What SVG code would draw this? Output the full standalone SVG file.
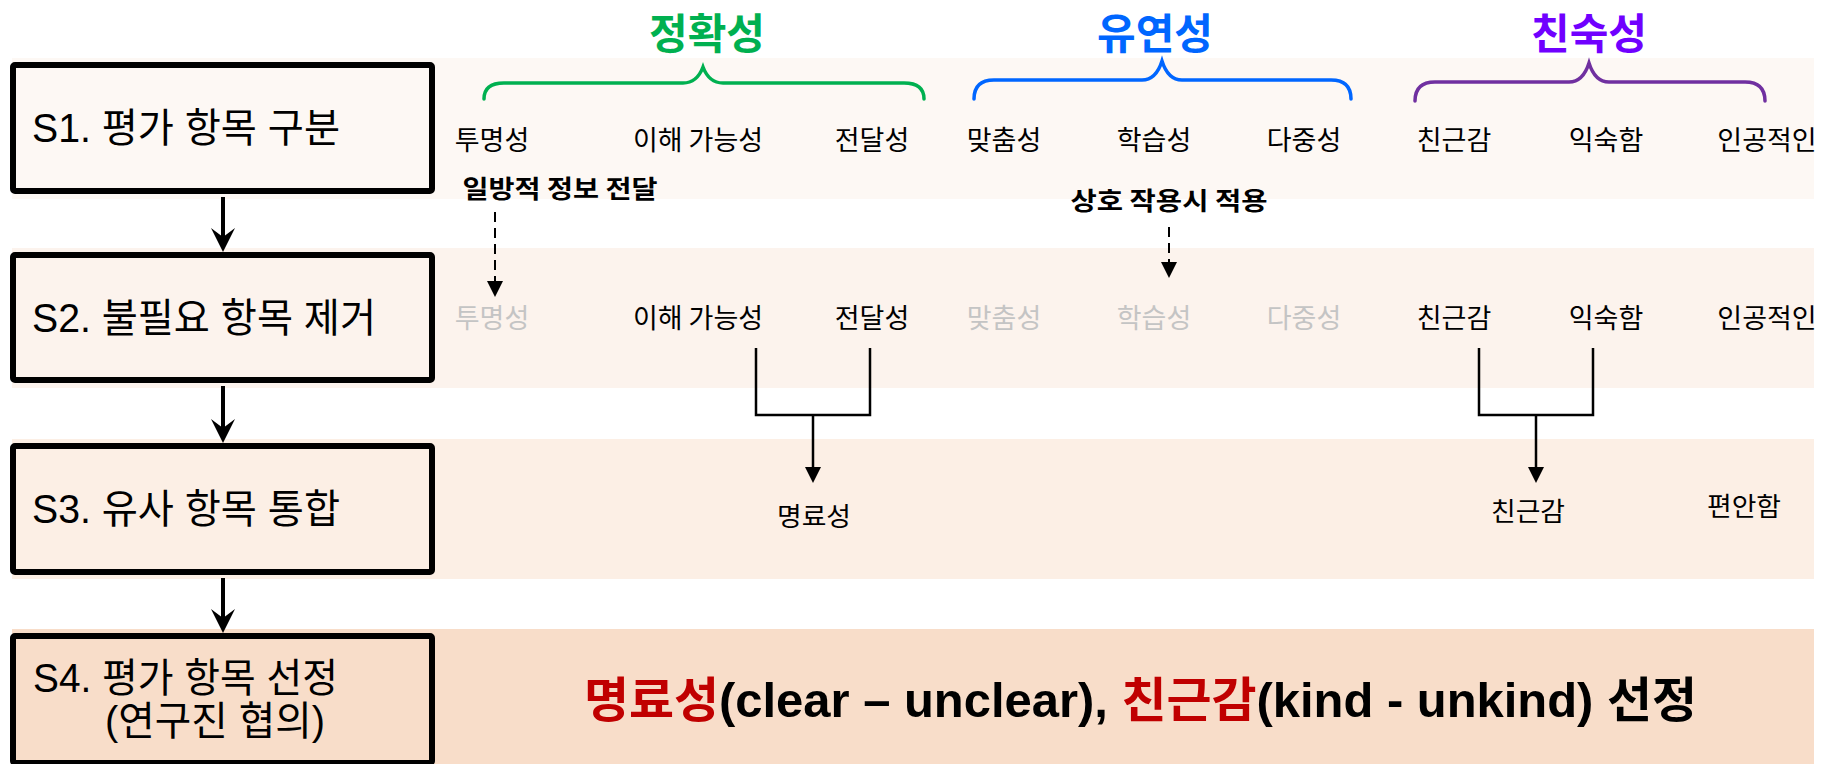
<svg xmlns="http://www.w3.org/2000/svg" width="1833" height="764" viewBox="0 0 1833 764">
<style>
.box{stroke:#000;stroke-width:6}
.step{font-family:"Liberation Sans","Noto Sans CJK KR",sans-serif;font-size:40px;fill:#000}
.lbl{font-family:"Noto Sans CJK KR",sans-serif;font-size:27px;fill:#000;text-anchor:middle}
.off{fill:#c4c4c4}
.note{font-family:"Noto Sans CJK KR",sans-serif;font-size:25px;font-weight:700;fill:#000;text-anchor:middle}
.hdr{font-family:"Noto Sans CJK KR",sans-serif;font-size:42px;font-weight:700;text-anchor:middle}
.brace{fill:none;stroke-width:3.5;stroke-linecap:round}
.res{font-family:"Noto Sans CJK KR",sans-serif;font-size:26px;fill:#000;text-anchor:middle}
.big{font-family:"Liberation Sans","Noto Sans CJK KR",sans-serif;font-size:48px;font-weight:700;fill:#000}
.red{fill:#c00000}
</style>
<defs>
<marker id="stepArrow" viewBox="0 0 24 24" refX="12" refY="12" markerWidth="24" markerHeight="24" markerUnits="userSpaceOnUse" orient="auto">
<path d="M0,0 L24,12 L0,24 L9,12 Z" fill="#000"/>
</marker>
<marker id="tri" viewBox="0 0 16 16" refX="6" refY="8" markerWidth="16" markerHeight="16" markerUnits="userSpaceOnUse" orient="auto">
<path d="M0,0 L16,8 L0,16 Z" fill="#000"/>
</marker>
</defs>
<rect width="1833" height="764" fill="#fff"/>
<g id="bands">
<rect x="12" y="58" width="1802" height="141" fill="#fdf8f4"/>
<rect x="12" y="248" width="1802" height="140" fill="#fcf3ed"/>
<rect x="12" y="439" width="1802" height="140" fill="#fcefe5"/>
<rect x="12" y="629" width="1802" height="135" fill="#f8ddc9"/>
</g>
<g id="headers">
<text class="hdr" x="707" y="49" fill="#00b050">정확성</text>
<text class="hdr" x="1155" y="49" fill="#0066ff">유연성</text>
<text class="hdr" x="1589" y="49" fill="#7000ff">친숙성</text>
<path class="brace" stroke="#00b050" d="M484,99 Q484,83 504,83 L683,83 Q697,83 703,67 Q709,83 723,83 L904,83 Q924,83 924,99"/>
<path class="brace" stroke="#0066ff" d="M974,99 Q974,80 994,80 L1142,80 Q1156,80 1162,61 Q1168,80 1182,80 L1331,80 Q1351,80 1351,99"/>
<path class="brace" stroke="#7030a0" d="M1415,101 Q1415,82 1435,82 L1569,82 Q1583,82 1589,63 Q1595,82 1609,82 L1745,82 Q1765,82 1765,101"/>
</g>
<g id="s1">
<rect class="box" x="13" y="65" width="419" height="126" rx="2" fill="#fdf8f4"/>
<text class="step" x="32" y="142" textLength="308" lengthAdjust="spacingAndGlyphs">S1. 평가 항목 구분</text>
</g>
<g id="s2">
<rect class="box" x="13" y="255" width="419" height="125" rx="2" fill="#fcf3ed"/>
<text class="step" x="32" y="332" textLength="344" lengthAdjust="spacingAndGlyphs">S2. 불필요 항목 제거</text>
</g>
<g id="s3">
<rect class="box" x="13" y="446" width="419" height="126" rx="2" fill="#fcefe5"/>
<text class="step" x="32" y="523" textLength="308" lengthAdjust="spacingAndGlyphs">S3. 유사 항목 통합</text>
</g>
<g id="s4">
<rect class="box" x="13" y="636" width="419" height="127" rx="2" fill="#f8ddc9"/>
<text class="step" x="33" y="692" textLength="305" lengthAdjust="spacingAndGlyphs">S4. 평가 항목 선정</text>
<text class="step" x="105" y="735" textLength="220" lengthAdjust="spacingAndGlyphs">(연구진 협의)</text>
</g>
<g id="row1">
<text class="lbl" x="492" y="150">투명성</text>
<text class="lbl" x="698" y="150">이해 가능성</text>
<text class="lbl" x="872" y="150">전달성</text>
<text class="lbl" x="1004" y="150">맞춤성</text>
<text class="lbl" x="1154" y="150">학습성</text>
<text class="lbl" x="1304" y="150">다중성</text>
<text class="lbl" x="1454" y="150">친근감</text>
<text class="lbl" x="1606" y="150">익숙함</text>
<text class="lbl" x="1767" y="150">인공적인</text>
</g>
<g id="notes">
<text class="note" x="560" y="198" textLength="195" lengthAdjust="spacingAndGlyphs">일방적 정보 전달</text>
<text class="note" x="1169" y="210" textLength="197" lengthAdjust="spacingAndGlyphs">상호 작용시 적용</text>
</g>
<g id="row2">
<text class="lbl off" x="492" y="328">투명성</text>
<text class="lbl" x="698" y="328">이해 가능성</text>
<text class="lbl" x="872" y="328">전달성</text>
<text class="lbl off" x="1004" y="328">맞춤성</text>
<text class="lbl off" x="1154" y="328">학습성</text>
<text class="lbl off" x="1304" y="328">다중성</text>
<text class="lbl" x="1454" y="328">친근감</text>
<text class="lbl" x="1606" y="328">익숙함</text>
<text class="lbl" x="1767" y="328">인공적인</text>
</g>
<g id="row3">
<text class="res" x="814" y="526" textLength="74" lengthAdjust="spacingAndGlyphs">명료성</text>
<text class="res" x="1528" y="521" textLength="74" lengthAdjust="spacingAndGlyphs">친근감</text>
<text class="res" x="1744" y="516" textLength="74" lengthAdjust="spacingAndGlyphs">편안함</text>
</g>
<g id="result">
<text class="big" x="584" y="717" textLength="1113" lengthAdjust="spacingAndGlyphs"><tspan class="red">명료성</tspan>(clear – unclear), <tspan class="red">친근감</tspan>(kind - unkind) 선정</text>
</g>
<g id="connectors" fill="none" stroke="#000">
<path d="M223,197 V240" stroke-width="4" marker-end="url(#stepArrow)"/>
<path d="M223,386 V431" stroke-width="4" marker-end="url(#stepArrow)"/>
<path d="M223,578 V621" stroke-width="4" marker-end="url(#stepArrow)"/>
<path d="M495,212 V287" stroke-width="2" stroke-dasharray="10 6" marker-end="url(#tri)"/>
<path d="M1169,227 V268" stroke-width="2" stroke-dasharray="10 6" marker-end="url(#tri)"/>
<path d="M756,348 V415 H870 V348" stroke-width="2.5"/>
<path d="M813,415 V473" stroke-width="2.5" marker-end="url(#tri)"/>
<path d="M1479,348 V415 H1593 V348" stroke-width="2.5"/>
<path d="M1536,415 V473" stroke-width="2.5" marker-end="url(#tri)"/>
</g>
</svg>
